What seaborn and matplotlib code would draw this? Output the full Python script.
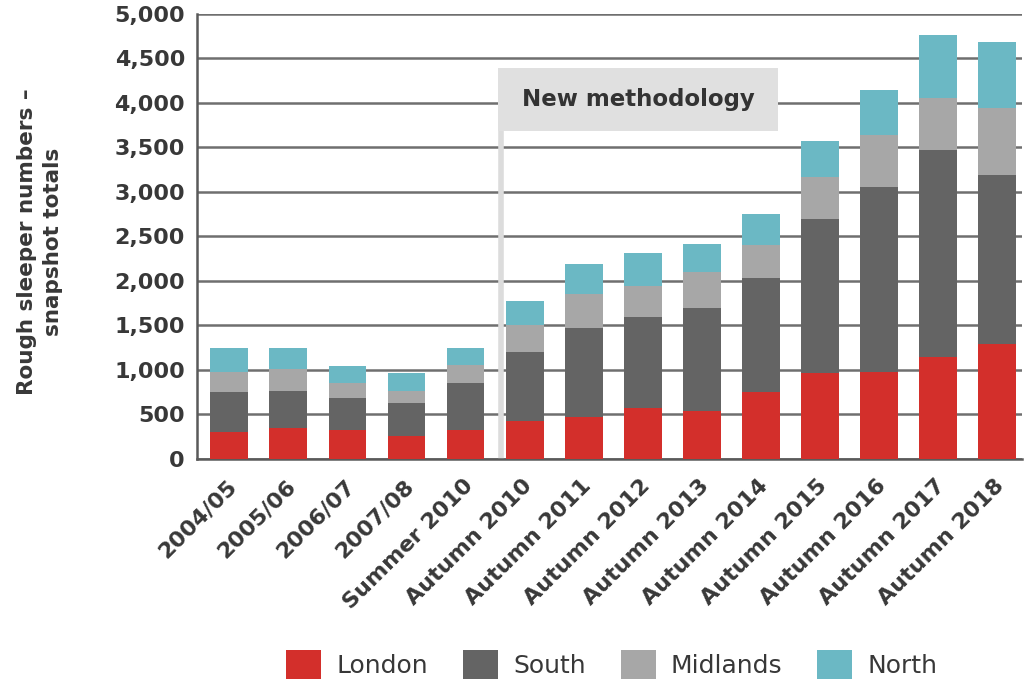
import matplotlib
matplotlib.use("Agg")
import matplotlib.pyplot as plt
import matplotlib.transforms as mtransforms
from matplotlib.patches import Patch, Rectangle
from matplotlib.ticker import FuncFormatter, MultipleLocator
import numpy as np
import pandas as pd
import seaborn as sns

# Rough sleeping snapshot counts by region
periods = ["2004/05", "2005/06", "2006/07", "2007/08", "Summer 2010",
           "Autumn 2010", "Autumn 2011", "Autumn 2012", "Autumn 2013",
           "Autumn 2014", "Autumn 2015", "Autumn 2016", "Autumn 2017",
           "Autumn 2018"]
london   = [300, 344, 325, 258, 325, 426, 475, 569, 542, 755, 962, 980, 1141, 1290]
south    = [448, 422, 363, 367, 531, 778, 998, 1028, 1156, 1272, 1727, 2075, 2326, 1893]
midlands = [232, 240, 161, 141, 199, 299, 378, 344, 404, 374, 472, 577, 591, 755]
north    = [262, 236, 194, 195, 187, 273, 337, 374, 310, 348, 410, 516, 703, 741]

regions = ["London", "South", "Midlands", "North"]
colors = {"London": "#d32f2b", "South": "#646464",
          "Midlands": "#a7a7a7", "North": "#6bb8c4"}

df = pd.DataFrame({"period": periods, "London": london, "South": south,
                   "Midlands": midlands, "North": north})
# running totals so each layer sits on top of the previous ones
cum = df[regions].cumsum(axis=1)
cum["period"] = df["period"]

sns.set_style("white")
plt.rcParams["font.family"] = ["DejaVu Sans"]

fig = plt.figure(figsize=(10.25, 6.83), dpi=100)
ax = fig.add_axes([0.192, 0.328, 0.805, 0.652])
ax.set_axisbelow(True)

text_col = "#383838"
grid_col = "#6f6f6f"

# draw the tallest stack first, then cover it with the lower layers
for reg in reversed(regions):
    sns.barplot(data=cum, x="period", y=reg, order=periods, color=colors[reg],
                width=0.64, saturation=1, errorbar=None, ax=ax, zorder=3,
                linewidth=0)

ax.set_ylim(0, 5000)
ax.set_xlim(-0.55, 13.42)
ax.yaxis.set_major_locator(MultipleLocator(500))
ax.yaxis.set_major_formatter(FuncFormatter(lambda v, p: f"{int(v):,}"))
ax.grid(axis="y", color=grid_col, linewidth=1.8)
ax.grid(axis="x", visible=False)

for side in ["top", "right"]:
    ax.spines[side].set_visible(False)
for side in ["left", "bottom"]:
    ax.spines[side].set_color("#5a5a5a")
    ax.spines[side].set_linewidth(1.8)

ax.set_xlabel("")
ax.set_ylabel("")

ax.tick_params(axis="y", length=0, pad=8.5, labelsize=16, labelcolor=text_col)
for lab in ax.get_yticklabels():
    lab.set_fontweight("bold")

# category labels under bars, small inward ticks between bars
ax.set_xticks(np.arange(len(periods)))
ax.set_xticklabels(periods, rotation=45, ha="right", va="top",
                   rotation_mode="anchor", fontsize=16, fontweight="bold",
                   color=text_col)
ax.tick_params(axis="x", which="major", length=0, pad=12)
ax.set_xticks(np.arange(len(periods) - 1) + 0.5, minor=True)
ax.tick_params(axis="x", which="minor", direction="in", length=6, width=1.5,
               color="#5a5a5a")
shift = mtransforms.ScaledTranslation(-3 / 100, 0, fig.dpi_scale_trans)
for lab in ax.get_xticklabels():
    lab.set_transform(lab.get_transform() + shift)

# methodology change marker
ax.plot([4.6, 4.6], [0, 3681], color="#dcdcdc", linewidth=4, zorder=2,
        solid_capstyle="butt")
ax.add_patch(Rectangle((4.55, 3681), 9.29 - 4.55, 4391 - 3681,
                       facecolor="#e0e0e0", edgecolor="none", zorder=2.5))
ax.text((4.55 + 9.29) / 2, (3681 + 4391) / 2, "New methodology",
        ha="center", va="center", fontsize=16.5, fontweight="bold",
        color="#333333", zorder=4)

fig.text(0.039, 1 - 242 / 683, "Rough sleeper numbers –\nsnapshot totals",
         rotation=90, ha="center", va="center", multialignment="center",
         fontsize=15.5, fontweight="bold", color=text_col, linespacing=1.35)

handles = [Patch(facecolor=colors[r], edgecolor="none", label=r) for r in regions]
fig.legend(handles=handles, loc="center", bbox_to_anchor=(0.597, 0.027),
           ncol=4, frameon=False, fontsize=18, handlelength=1.4,
           handleheight=1.4, handletextpad=0.6, columnspacing=1.4,
           labelcolor=text_col)

fig.savefig("out.png", dpi=100)
